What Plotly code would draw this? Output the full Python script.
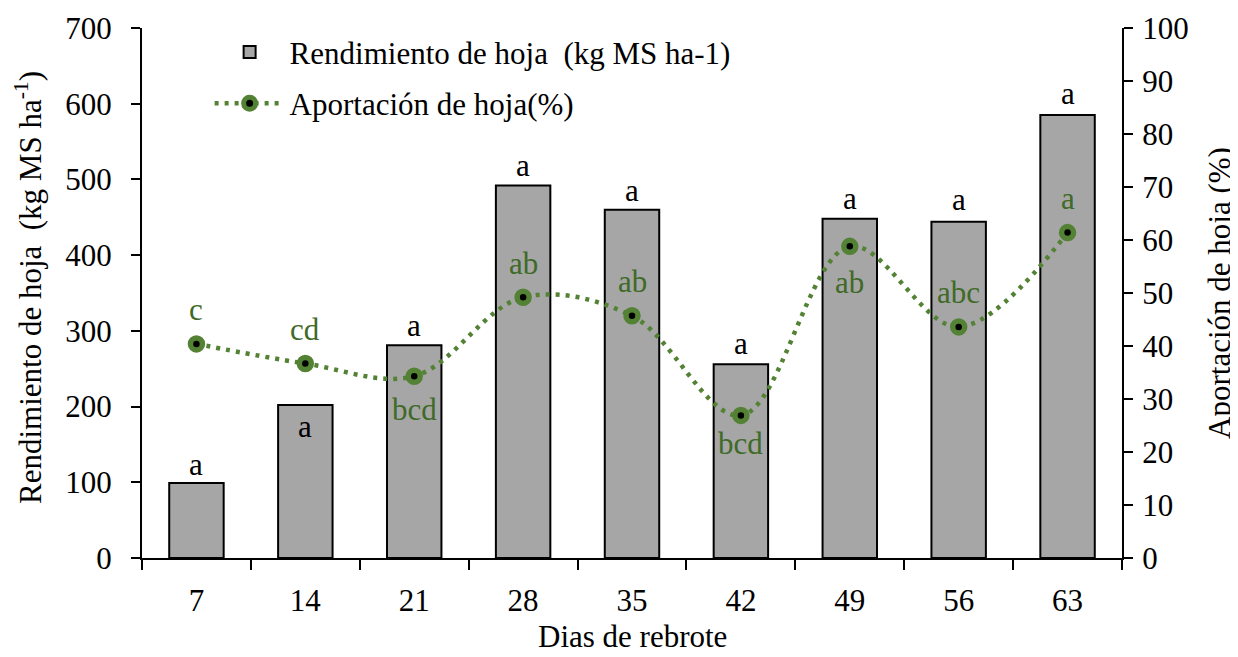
import plotly.graph_objects as go

dias = ["7", "14", "21", "28", "35", "42", "49", "56", "63"]
rendimiento = [99, 202, 281, 492, 460, 256, 448, 444, 585]
aportacion = [40.4, 36.7, 34.3, 49.2, 45.7, 26.9, 58.8, 43.6, 61.4]
letras_rend = ["a", "a", "a", "a", "a", "a", "a", "a", "a"]
letras_aport = ["c", "cd", "bcd", "ab", "ab", "bcd", "ab", "abc", "a"]

# label offsets (pixels) – styling only
shift_rend = [19, -21, 20, 20, 19, 21, 20, 22, 22]
shift_aport = [34, 34, -33, 34, 34, -28, -36, 34, 34]

FONT = "Liberation Serif"
GREEN = "#548235"
DGREEN = "#3F6A27"

fig = go.Figure()
fig.add_trace(go.Bar(
    x=dias, y=rendimiento, name="Rendimiento de hoja\u00a0 (kg MS ha-1)",
    marker=dict(color="#A6A6A6", line=dict(color="black", width=2)),
    width=0.5, yaxis="y", legendgroup="g1"))
fig.add_trace(go.Scatter(
    x=dias, y=aportacion, name="Aportación de hoja(%)", yaxis="y2",
    mode="lines+markers", legendgroup="g2",
    line=dict(color=GREEN, width=4.5, dash="4px,6px", shape="spline", smoothing=1),
    marker=dict(symbol="circle", size=12, color="black",
                line=dict(color=GREEN, width=5.5))))

ann = []
for i, (v, t, s) in enumerate(zip(rendimiento, letras_rend, shift_rend)):
    ann.append(dict(x=i, y=v, xref="x", yref="y", text=t, showarrow=False,
                    yanchor="middle", yshift=s,
                    font=dict(family=FONT, size=31, color="black")))
for i, (v, t, s) in enumerate(zip(aportacion, letras_aport, shift_aport)):
    ann.append(dict(x=i, y=v, xref="x", yref="y2", text=t, showarrow=False,
                    yanchor="middle", yshift=s,
                    font=dict(family=FONT, size=31, color=DGREEN)))
# axis titles as text
ann.append(dict(x=-0.116, y=0.51, xref="paper", yref="paper", showarrow=False,
                xanchor="center", yanchor="middle", textangle=-90,
                text="Rendimiento de hoja\u00a0 (kg MS ha<sup>-1</sup>)",
                font=dict(family=FONT, size=31, color="black")))
ann.append(dict(x=0.5, y=-0.185, xref="paper", yref="paper", showarrow=False,
                xanchor="center", yanchor="bottom", text="Dias de rebrote",
                font=dict(family=FONT, size=31, color="black")))

tickfont = dict(family=FONT, size=31, color="black")
# page body has an 8px margin: figure is sized/margined to compensate
fig.update_layout(
    width=1230, height=649,
    margin=dict(l=134, r=116, t=20, b=99, autoexpand=False),
    paper_bgcolor="white", plot_bgcolor="white",
    font=dict(family=FONT, size=31, color="black"),
    showlegend=True,
    legend=dict(x=0.069, y=1.005, xanchor="left", yanchor="top",
                bgcolor="rgba(0,0,0,0)", font=dict(family=FONT, size=31),
                itemwidth=70, tracegroupgap=8, traceorder="grouped"),
    xaxis=dict(type="category", range=[-0.5, 8.5], tickson="boundaries", ticks="outside",
               ticklen=10, tickwidth=2, tickcolor="black", automargin=False,
               showline=True, linecolor="black", linewidth=2, tickangle=0,
               showgrid=False, tickfont=tickfont, ticklabelstandoff=14),
    yaxis=dict(range=[0, 700], dtick=100, ticks="outside", ticklen=9,
               tickwidth=2, tickcolor="black", showline=True, linecolor="black",
               linewidth=2, showgrid=False, zeroline=False, tickfont=tickfont,
               ticklabelstandoff=13, automargin=False),
    yaxis2=dict(range=[0, 100], dtick=10, ticks="outside", ticklen=9,
                tickwidth=2, tickcolor="black", showline=True, linecolor="black",
                linewidth=2, showgrid=False, zeroline=False, tickfont=tickfont,
                overlaying="y", side="right", anchor="x", ticklabelstandoff=3,
                automargin=False,
                title=dict(text="Aportación de hoja (%)",
                           font=dict(family=FONT, size=31), standoff=21)),
    xaxis3=dict(overlaying="x", anchor="y", range=[-0.5, 8.5], tickmode="linear",
                tick0=-0.5, dtick=1, ticks="inside", ticklen=10, tickwidth=2,
                tickcolor="black", showticklabels=False, showgrid=False,
                zeroline=False, showline=False, automargin=False),
    yaxis3=dict(overlaying="y", anchor="x", side="left", range=[0, 700], dtick=100,
                ticks="inside", ticklen=10, tickwidth=2, tickcolor="black",
                showticklabels=False, showgrid=False, zeroline=False, showline=False,
                automargin=False),
    yaxis4=dict(overlaying="y", anchor="x", side="right", range=[0, 100], dtick=10,
                ticks="inside", ticklen=10, tickwidth=2, tickcolor="black",
                showticklabels=False, showgrid=False, zeroline=False, showline=False,
                automargin=False),
    annotations=ann,
)

fig.write_html("out.html")
